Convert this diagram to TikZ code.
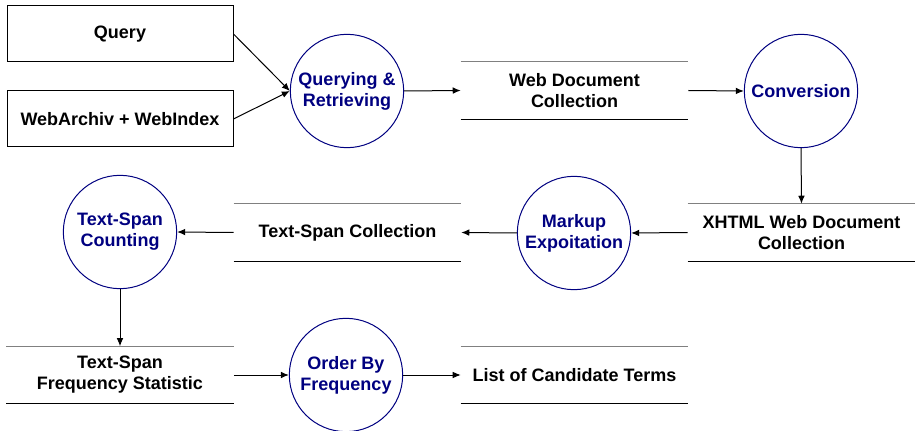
\documentclass[tikz,border=0pt]{standalone}
\usepackage{fontspec}
\setmainfont{Liberation Sans}
\usetikzlibrary{arrows.meta}
\definecolor{procblue}{HTML}{000080}
\begin{document}
\begin{tikzpicture}[x=0.75pt,y=-0.75pt,
  font=\bfseries\fontsize{13.5}{15.75}\selectfont,
  box/.style={draw=black, line width=0.75pt, minimum width=169.5pt, minimum height=42pt, inner sep=0pt, align=center},
  proc/.style={circle, draw=procblue, line width=0.75pt, text=procblue, minimum size=85pt, inner sep=0pt, align=center},
  store/.style={minimum width=170.25pt, minimum height=42.75pt, inner sep=0pt, align=center},
  flow/.style={-{Latex[length=6pt,width=5pt]}, line width=0.75pt}]
\useasboundingbox (0,0) rectangle (915,431);

% external entities
\node[box] (query)   at (120,34)  {Query};
\node[box] (webarch) at (120,119) {WebArchiv + WebIndex};

% processes
\node[proc] (qr)      at (347,91)  {Querying \&\\Retrieving};
\node[proc] (conv)    at (801,91)  {Conversion};
\node[proc] (markup)  at (574,233) {Markup\\Expoitation};
\node[proc] (count)   at (120,232) {Text-Span\\Counting};
\node[proc] (order)   at (346,375) {Order By\\Frequency};

% data stores
\node[store] (wdc)   at (574.5,90.5)  {Web Document\\Collection};
\node[store] (xhtml) at (801.5,232.5) {XHTML Web Document\\Collection};
\node[store] (tsc)   at (347.5,232.5) {Text-Span Collection};
\node[store] (tsfs)  at (120,375)     {Text-Span\\Frequency Statistic};
\node[store] (list)  at (574.5,375)   {List of Candidate Terms};

\foreach \s in {wdc,xhtml,tsc,tsfs,list}{
  \draw[gray, line width=1pt] (\s.north west) -- (\s.north east);
  \draw[black, line width=0.75pt] (\s.south west) -- (\s.south east);
}

% data flows
\draw[flow] (query.east)   -- (qr.west);
\draw[flow] (webarch.east) -- (qr.west);
\draw[flow] (qr.east)      -- (wdc.west);
\draw[flow] (wdc.east)     -- (conv.west);
\draw[flow] (conv.south)   -- (xhtml.north);
\draw[flow] (xhtml.west)   -- (markup.east);
\draw[flow] (markup.west)  -- (tsc.east);
\draw[flow] (tsc.west)     -- (count.east);
\draw[flow] (count.south)  -- (tsfs.north);
\draw[flow] (tsfs.east)    -- (order.west);
\draw[flow] (order.east)   -- (list.west);
\end{tikzpicture}
\end{document}
